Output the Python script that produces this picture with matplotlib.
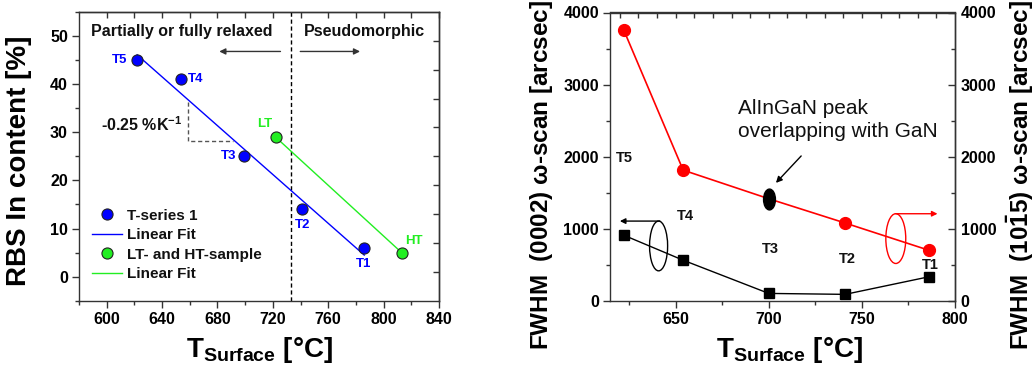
import numpy as np
import matplotlib
matplotlib.use("Agg")
import matplotlib.pyplot as plt
from matplotlib.ticker import MultipleLocator, NullFormatter
from matplotlib.path import Path
from matplotlib.patches import Ellipse

plt.rcParams['font.family'] = ['Liberation Sans', 'DejaVu Sans']
plt.rcParams['font.weight'] = 'bold'
plt.rcParams['mathtext.fontset'] = 'custom'
plt.rcParams['mathtext.rm'] = 'Liberation Sans'
plt.rcParams['mathtext.bf'] = 'Liberation Sans:bold'
plt.rcParams['mathtext.it'] = 'Liberation Sans:italic'
plt.rcParams['axes.linewidth'] = 1.0
plt.rcParams['axes.edgecolor'] = '#333333'

# ---------------- data: left panel ----------------
t_series_temp = [622, 654, 699, 741, 786]
t_series_in = [45, 41, 25, 14, 6]
t_series_labels = ['T5', 'T4', 'T3', 'T2', 'T1']
ltht_temp = [722, 813]
ltht_in = [29, 5]
ltht_labels = ['LT', 'HT']

# ---------------- data: right panel ----------------
fwhm_temp = [622, 654, 700, 741, 786]
fwhm_0002 = [910, 562, 101, 88, 332]
fwhm_1015 = [3762, 1812, 1415, 1078, 700]
fwhm_labels = ['T5', 'T4', 'T3', 'T2', 'T1']

W, H = 1035, 368
fig = plt.figure(figsize=(W / 100, H / 100), dpi=100)

def ax_rect(x0, y0, x1, y1):
    return [x0 / W, (H - y1) / H, (x1 - x0) / W, (y1 - y0) / H]

TICK_FS = 11.5
blue = '#0000ff'
green = '#22ee22'
red = '#ff0000'

# ================= LEFT PANEL =================
ax1 = fig.add_axes(ax_rect(79, 12, 439, 300.7))
ax1.set_xlim(580, 840)
ax1.set_ylim(-5, 55)

# fits
p_t = np.polyfit(t_series_temp, t_series_in, 1)
xf = np.array([min(t_series_temp), max(t_series_temp)])
h2, = ax1.plot(xf, np.polyval(p_t, xf), color=blue, lw=1.0, zorder=2)
p_l = np.polyfit(ltht_temp, ltht_in, 1)
xg = np.array([min(ltht_temp), max(ltht_temp)])
h4, = ax1.plot(xg, np.polyval(p_l, xg), color=green, lw=1.0, zorder=2)

h1, = ax1.plot(t_series_temp, t_series_in, 'o', ms=8, mfc=blue, mec='#222222', mew=0.8,
               zorder=3)
h3, = ax1.plot(ltht_temp, ltht_in, 'o', ms=8, mfc=green, mec='#222222', mew=0.8,
               zorder=3)

# point labels
lab_off = [(-12.5, 0), (10.5, 0), (-11, 0), (0.5, -3.3), (-0.3, -3.3)]
for x, y, s, (dx, dy) in zip(t_series_temp, t_series_in, t_series_labels, lab_off):
    ax1.text(x + dx, y + dy, s, color=blue, fontsize=9.5, fontweight='bold',
             ha='center', va='center')
for x, y, s, (dx, dy) in zip(ltht_temp, ltht_in, ltht_labels, [(-7.8, 2.8), (9, 2.4)]):
    ax1.text(x + dx, y + dy, s, color=green, fontsize=9.5, fontweight='bold',
             ha='center', va='center')

# boundary line
ax1.axvline(733.4, color='black', lw=1.0, ls=(0, (3, 2)), zorder=1)
ax1.text(654.5, 51, 'Partially or fully relaxed', fontsize=11.5, fontweight='bold',
         ha='center', va='center', color='#111111')
ax1.text(786, 51, 'Pseudomorphic', fontsize=11.5, fontweight='bold',
         ha='center', va='center', color='#111111')
ax1.annotate('', xy=(679.3, 46.8), xytext=(727.5, 46.8),
             arrowprops=dict(arrowstyle='-|>', color='#333333', lw=1.0, mutation_scale=9))
ax1.annotate('', xy=(785, 46.8), xytext=(737.8, 46.8),
             arrowprops=dict(arrowstyle='-|>', color='#333333', lw=1.0, mutation_scale=9))

# slope triangle
ax1.plot([658.4, 658.4, 691.3], [36.2, 28.1, 28.1], color='#555555', lw=1.0,
         ls=(0, (3, 2)), zorder=1)
ax1.text(595.9, 31.5, '-0.25 %K$^{\\mathbf{-1}}$', fontsize=11.5, fontweight='bold',
         ha='left', va='center', color='#111111')

# legend
leg = ax1.legend([h1, h2, h3, h4], ['T-series 1', 'Linear Fit', 'LT- and HT-sample', 'Linear Fit'],
                 loc='center left', bbox_to_anchor=(0.018, 0.193), frameon=False,
                 fontsize=11, handlelength=2.0, handletextpad=0.35, labelspacing=0.36,
                 numpoints=1, borderaxespad=0, borderpad=0.4)
for t in leg.get_texts():
    t.set_fontweight('bold')
    t.set_color('#111111')

ax1.set_xticks(np.arange(600, 841, 40))
ax1.xaxis.set_minor_locator(MultipleLocator(20))
ax1.set_yticks(np.arange(0, 51, 10))
ax1.yaxis.set_minor_locator(MultipleLocator(5))
ax1.tick_params(which='major', direction='out', length=5, width=1, labelsize=TICK_FS,
                color='#333333', pad=3)
ax1.tick_params(which='minor', direction='out', length=3, width=1, color='#333333')
for lab in ax1.get_xticklabels() + ax1.get_yticklabels():
    lab.set_fontweight('bold')

sx1 = ax1.secondary_xaxis('top')
sx1.set_xticks(np.arange(600, 841, 20))
sx1.xaxis.set_major_formatter(NullFormatter())
sx1.tick_params(direction='in', length=4, width=1, color='#333333')
sy1 = ax1.secondary_yaxis('right')
sy1.set_yticks(np.arange(1, 50, 6))
sy1.yaxis.set_major_formatter(NullFormatter())
sy1.tick_params(direction='in', length=4, width=1, color='#333333')

ax1.set_ylabel('RBS In content [%]', fontsize=20, fontweight='bold')
ax1.yaxis.set_label_coords(-0.1306, 0.484)
ax1.set_xlabel('T$_{\\mathbf{Surface}}$ [°C]', fontsize=20, fontweight='bold')
ax1.xaxis.set_label_coords(0.501, -0.119)

# ================= RIGHT PANEL =================
ax2 = fig.add_axes(ax_rect(610, 12.5, 955, 300.7))
ax2.set_xlim(614.7, 800)
ax2.set_ylim(0, 4000)

ax2.plot(fwhm_temp, fwhm_0002, '-s', color='black', lw=1.0, ms=7.5, mfc='black',
         mec='black', zorder=3)
ax2.plot(fwhm_temp, fwhm_1015, '-o', color=red, lw=1.2, ms=8.5, mfc=red, mec=red,
         markevery=[0, 1, 3, 4], zorder=3)
# overlapping peak marker (ellipse) at T3
circ = Path.unit_circle()
ell_path = Path(circ.vertices * np.array([0.57, 1.0]), circ.codes)
ax2.plot([fwhm_temp[2]], [fwhm_1015[2]], linestyle='none', marker=ell_path, ms=15,
         mfc='black', mec='black', zorder=4)

lab_pos2 = [(0.5, 1977), (1, 1175), (1, 724), (1, 576), (0.5, 493)]
for x, s, (dx, yy) in zip(fwhm_temp, fwhm_labels, lab_pos2):
    ax2.text(x + dx, yy, s, fontsize=10.5, fontweight='bold', ha='center', va='center',
             color='#111111')

ax2.text(683.5, 2510, 'AlInGaN peak\noverlapping with GaN', fontsize=15,
         fontweight='normal', ha='left', va='center', linespacing=1.25, color='#111111')
ax2.annotate('', xy=(702.8, 1607), xytext=(718.4, 2037),
             arrowprops=dict(arrowstyle='-|>', color='black', lw=1.0, mutation_scale=9))

# axis indicator ellipses
ax2.add_patch(Ellipse((640.8, 760), 9.7, 691, fill=False, ec='black', lw=1.0, zorder=2))
ax2.annotate('', xy=(620, 1105), xytext=(641.5, 1105),
             arrowprops=dict(arrowstyle='-|>', color='black', lw=1.0, mutation_scale=8,
                             shrinkA=0, shrinkB=0))
ax2.add_patch(Ellipse((768.2, 862), 10.7, 691, fill=False, ec=red, lw=1.0, zorder=2))
ax2.annotate('', xy=(790.6, 1207), xytext=(768.2, 1207),
             arrowprops=dict(arrowstyle='-|>', color=red, lw=1.0, mutation_scale=8,
                             shrinkA=0, shrinkB=0))

ax2.set_xticks([650, 700, 750, 800])
ax2.xaxis.set_minor_locator(MultipleLocator(25))
ax2.set_yticks(np.arange(0, 4001, 1000))
ax2.yaxis.set_minor_locator(MultipleLocator(500))
ax2.tick_params(which='major', direction='out', length=5, width=1, labelsize=TICK_FS,
                color='#333333', pad=3)
ax2.tick_params(which='minor', direction='out', length=3, width=1, color='#333333')
for lab in ax2.get_xticklabels() + ax2.get_yticklabels():
    lab.set_fontweight('bold')

sx2 = ax2.secondary_xaxis('top')
sx2.set_xticks(np.arange(620, 800, 10))
sx2.xaxis.set_major_formatter(NullFormatter())
sx2.tick_params(direction='in', length=4, width=1, color='#333333')
sy2 = ax2.secondary_yaxis('right')
sy2.set_yticks(np.arange(0, 4001, 1000))
sy2.yaxis.set_minor_locator(MultipleLocator(500))
sy2.tick_params(which='major', direction='in', length=5, width=1, labelsize=TICK_FS,
                color='#333333', pad=4)
sy2.tick_params(which='minor', direction='in', length=3, width=1, color='#333333')
for lab in sy2.get_yticklabels():
    lab.set_fontweight('bold')

ax2.set_ylabel('FWHM  (0002) $\\mathrm{\\omega}$-scan [arcsec]', fontsize=17.5, fontweight='bold')
ax2.yaxis.set_label_coords(-0.159, 0.435)
fig.text(1020 / W, (H - 175) / H,
         'FWHM  (10$\\mathbf{\\bar{1}}$5) $\\mathrm{\\omega}$-scan [arcsec]', fontsize=17.5,
         fontweight='bold', rotation=90, ha='center', va='center')
ax2.set_xlabel('T$_{\\mathbf{Surface}}$ [°C]', fontsize=20, fontweight='bold')
ax2.xaxis.set_label_coords(0.52, -0.119)

fig.savefig('out.png', dpi=100)
